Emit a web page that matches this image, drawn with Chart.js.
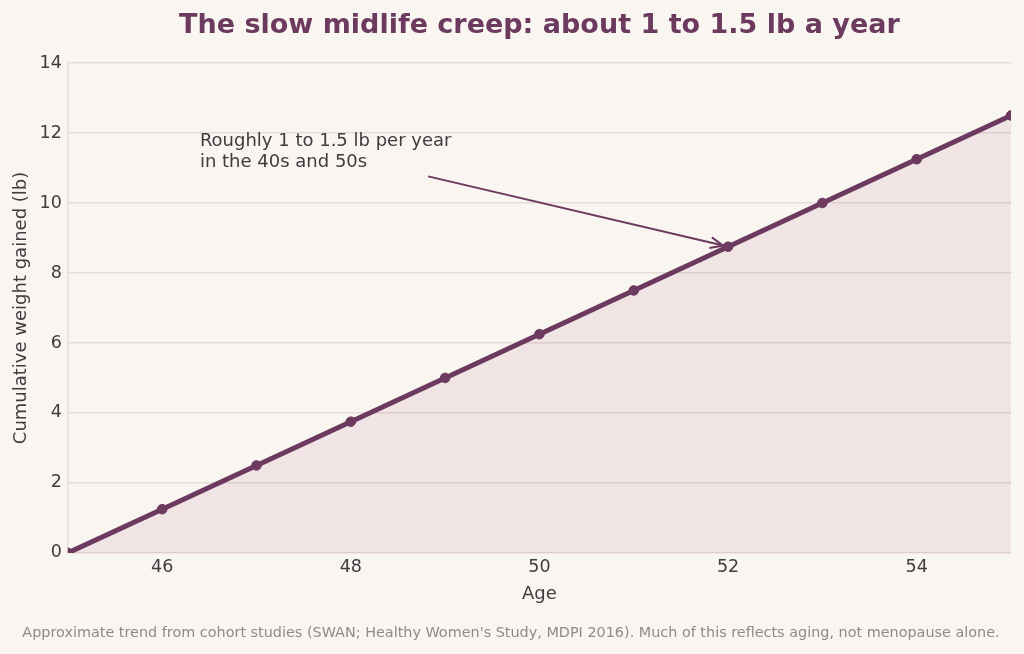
<!DOCTYPE html>
<html><head><meta charset="utf-8">
<script src="https://cdn.jsdelivr.net/npm/chart.js@4/dist/chart.umd.min.js"></script>
<style>html,body{margin:0;padding:0;background:#f9f5f1;}#wrap{width:1024px;height:654px;}</style>
</head><body><div id="wrap"><canvas id="c" width="1024" height="654"></canvas></div>
<script>
const ages = [45, 46, 47, 48, 49, 50, 51, 52, 53, 54, 55];
const gained = [0, 1.25, 2.5, 3.75, 5, 6.25, 7.5, 8.75, 10, 11.25, 12.5];
const xTickLabels = [46, 48, 50, 52, 54];
const yTickLabels = [0, 2, 4, 6, 8, 10, 12, 14];
const titleText = 'The slow midlife creep: about 1 to 1.5 lb a year';
const noteLines = ['Roughly 1 to 1.5 lb per year', 'in the 40s and 50s'];
const notePos = {x: 46.4, y: 12.02};
const arrowFrom = {x: 48.82, y: 10.76};
const arrowTo = {x: 52, y: 8.75};
const footnote = "Approximate trend from cohort studies (SWAN; Healthy Women's Study, MDPI 2016). Much of this reflects aging, not menopause alone.";

const FONT = "'DejaVu Sans', sans-serif";
const purple = '#6b3a5e';

const annot = {
  id: 'annot',
  afterDatasetsDraw(chart) {
    const {ctx, chartArea, scales: {x, y}} = chart;
    ctx.save();
    // title centred over the plot area
    ctx.fillStyle = purple;
    ctx.font = "bold 27px " + FONT;
    ctx.textAlign = 'center';
    ctx.textBaseline = 'middle';
    ctx.fillText(titleText, (chartArea.left + chartArea.right) / 2, 26);
    // note
    ctx.textAlign = 'left';
    ctx.fillStyle = '#3f3b3f';
    ctx.font = "18px " + FONT;
    ctx.textBaseline = 'top';
    const tx = x.getPixelForValue(notePos.x), ty = y.getPixelForValue(notePos.y);
    noteLines.forEach((l, i) => ctx.fillText(l, tx, ty + i * 21));
    const x0 = x.getPixelForValue(arrowFrom.x), y0 = y.getPixelForValue(arrowFrom.y);
    const x1 = x.getPixelForValue(arrowTo.x), y1 = y.getPixelForValue(arrowTo.y);
    const ang = Math.atan2(y1 - y0, x1 - x0);
    const ex = x1 - 5 * Math.cos(ang), ey = y1 - 5 * Math.sin(ang);
    ctx.strokeStyle = purple; ctx.lineWidth = 2;
    ctx.beginPath(); ctx.moveTo(x0, y0); ctx.lineTo(ex, ey); ctx.stroke();
    ctx.beginPath();
    ctx.moveTo(ex - 14 * Math.cos(ang - 0.4), ey - 14 * Math.sin(ang - 0.4));
    ctx.lineTo(ex, ey);
    ctx.lineTo(ex - 14 * Math.cos(ang + 0.4), ey - 14 * Math.sin(ang + 0.4));
    ctx.stroke();
    ctx.restore();
  }
};

new Chart(document.getElementById('c'), {
  type: 'line',
  data: {
    datasets: [{
      data: ages.map((a, i) => ({x: a, y: gained[i]})),
      borderColor: purple,
      backgroundColor: 'rgba(165,80,115,0.10)',
      fill: 'origin',
      borderWidth: 5,
      pointRadius: 4.8,
      pointBorderWidth: 1,
      pointBackgroundColor: purple,
      pointBorderColor: purple,
      tension: 0,
      clip: 0
    }]
  },
  plugins: [annot],
  options: {
    responsive: false,
    animation: false,
    layout: {padding: {left: 11, right: 13, top: 63, bottom: 6}},
    plugins: {
      legend: {display: false},
      tooltip: {enabled: false},
      title: {display: false},
      subtitle: {display: true, position: 'bottom', text: footnote, color: '#8e8a8a',
        font: {family: FONT, size: 14.4}, padding: {top: 20, bottom: 6}}
    },
    scales: {
      x: {
        type: 'linear', min: 45, max: 55,
        afterBuildTicks: (s) => { s.ticks = xTickLabels.map(v => ({value: v})); },
        grid: {display: false, drawTicks: false},
        border: {display: false},
        ticks: {color: '#3f3b3f', font: {family: FONT, size: 17.5}, padding: 4},
        title: {display: true, text: 'Age', color: '#3f3b3f', font: {family: FONT, size: 18, lineHeight: 1.1}, padding: {top: 3, bottom: 0}}
      },
      y: {
        min: 0, max: 14,
        afterBuildTicks: (s) => { s.ticks = yTickLabels.map(v => ({value: v})); },
        grid: {color: '#e6dcd9', lineWidth: 1.5, drawTicks: false},
        border: {display: true, color: '#e6dcd9', width: 1.5},
        ticks: {color: '#3f3b3f', font: {family: FONT, size: 17.5}, padding: 6},
        title: {display: true, text: 'Cumulative weight gained (lb)', color: '#3f3b3f', font: {family: FONT, size: 18}, padding: {top: 0, bottom: 1}}
      }
    }
  }
});
</script></body></html>
